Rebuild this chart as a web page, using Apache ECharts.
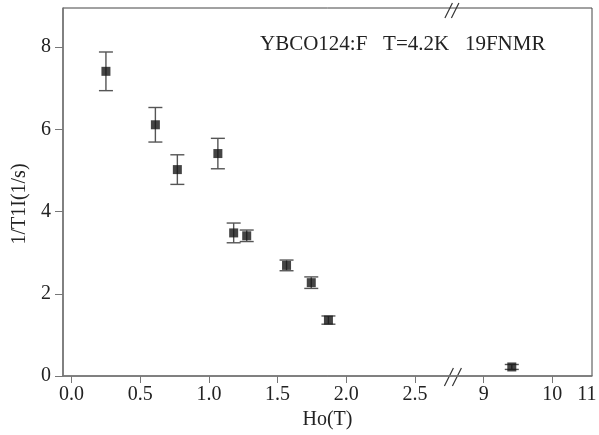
<!DOCTYPE html>
<html>
<head>
<meta charset="utf-8">
<script src="https://cdn.jsdelivr.net/npm/echarts@6/dist/echarts.min.js"></script>
<style>
  html, body { margin: 0; padding: 0; background: #fff; }
  #main { width: 599px; height: 435px; }
</style>
</head>
<body>
<div id="main"></div>
<script>
// measured field Ho (T), relaxation rate 1/T1 (1/s) and its error bar
var hoValues   = [0.25, 0.61, 0.77, 1.065, 1.18, 1.275, 1.565, 1.745, 1.87, 9.41];
var rateValues = [7.41, 6.11, 5.02, 5.41, 3.48, 3.41, 2.69, 2.27, 1.36, 0.22];
var errValues  = [0.47, 0.42, 0.36, 0.37, 0.24, 0.14, 0.13, 0.14, 0.10, 0.06];
var xTickValues = [0, 0.5, 1.0, 1.5, 2.0, 2.5, 9, 10];

// broken x axis: 0..2.8 kept as is, 9..11 squeezed to half scale after the break
var BREAK_AT = 2.78;
function toAxis(v) {
  return v <= 2.8 ? v : 3 + (v - 9) * 0.5;
}
function fromAxis(t) {
  return t <= 2.8 ? t : 9 + (t - 3) * 2;
}

var points = hoValues.map(function (h, i) {
  return [toAxis(h), rateValues[i]];
});
var bars = hoValues.map(function (h, i) {
  return [toAxis(h), rateValues[i] - errValues[i], rateValues[i] + errValues[i]];
});

var font = '"Liberation Serif", "DejaVu Serif", serif';
var myChart = echarts.init(document.getElementById('main'));

var option = {
  animation: false,
  textStyle: { fontFamily: font },
  grid: {
    left: 63, right: 7, top: 8, bottom: 59,
    outerBoundsMode: 'none',
    containLabel: false,
    show: true,
    borderColor: '#444',
    borderWidth: 1
  },
  xAxis: {
    type: 'value',
    min: -0.0626,
    max: 3.789,
    name: 'Ho(T)',
    nameLocation: 'middle',
    nameGap: 25,
    nameTextStyle: { color: '#222', fontSize: 20, fontFamily: font },
    axisLine: { onZero: false, lineStyle: { color: '#777', width: 1.5 } },
    axisTick: {
      customValues: xTickValues.map(toAxis),
      length: 7,
      lineStyle: { color: '#777' }
    },
    axisLabel: {
      customValues: xTickValues.map(toAxis).concat([3.752]),
      margin: 9,
      color: '#222',
      fontSize: 20,
      fontFamily: font,
      formatter: function (t) {
        if (t <= 2.8) return t.toFixed(1);
        return String(Math.round(fromAxis(t)));
      }
    },
    splitLine: { show: false }
  },
  yAxis: {
    type: 'value',
    min: 0,
    max: 8.95,
    interval: 2,
    name: '1/T1I(1/s)',
    nameLocation: 'middle',
    nameGap: 33,
    nameTextStyle: { color: '#222', fontSize: 20, fontFamily: font, padding: [0, 24, 0, 0] },
    axisLine: { show: true, onZero: false, lineStyle: { color: '#777', width: 1.5 } },
    axisTick: { show: true, length: 8, lineStyle: { color: '#777' } },
    axisLabel: {
      margin: 12,
      color: '#222',
      fontSize: 20,
      fontFamily: font,
      showMaxLabel: false
    },
    splitLine: { show: false }
  },
  series: [{
    type: 'custom',
    name: 'err',
    data: bars,
    renderItem: function (params, api) {
      var x = api.value(0);
      var lo = api.coord([x, api.value(1)]);
      var hi = api.coord([x, api.value(2)]);
      var cap = 7;
      var style = { stroke: '#555', lineWidth: 1.4 };
      return {
        type: 'group',
        children: [
          { type: 'line', shape: { x1: lo[0], y1: lo[1], x2: hi[0], y2: hi[1] }, style: style },
          { type: 'line', shape: { x1: lo[0] - cap, y1: lo[1], x2: lo[0] + cap, y2: lo[1] }, style: style },
          { type: 'line', shape: { x1: hi[0] - cap, y1: hi[1], x2: hi[0] + cap, y2: hi[1] }, style: style }
        ]
      };
    },
    z: 2
  }, {
    type: 'scatter',
    name: '1/T1',
    data: points,
    symbol: 'rect',
    symbolSize: 9,
    itemStyle: { color: '#151515' },
    z: 3
  }]
};

myChart.setOption(option);

// annotation and axis break marks
var bx = myChart.convertToPixel({ gridIndex: 0 }, [BREAK_AT, 0])[0];
function slash(x0, yTop, yBot) {
  var s = { stroke: '#333', lineWidth: 1.2 };
  var dx = (yBot - yTop) / 2;
  return {
    type: 'group',
    children: [
      { type: 'line', shape: { x1: x0 - dx, y1: yBot, x2: x0, y2: yTop }, style: s },
      { type: 'line', shape: { x1: x0 - 1, y1: yBot, x2: x0 - 1 + dx, y2: yTop }, style: s }
    ]
  };
}
myChart.setOption({
  graphic: [
    {
      type: 'text',
      left: 260,
      top: 34,
      style: {
        text: 'YBCO124:F   T=4.2K   19FNMR',
        font: '21px ' + font,
        fill: '#222'
      }
    },
    slash(bx, 368, 386),
    slash(bx - 1, 3, 18)
  ]
});
</script>
</body>
</html>
